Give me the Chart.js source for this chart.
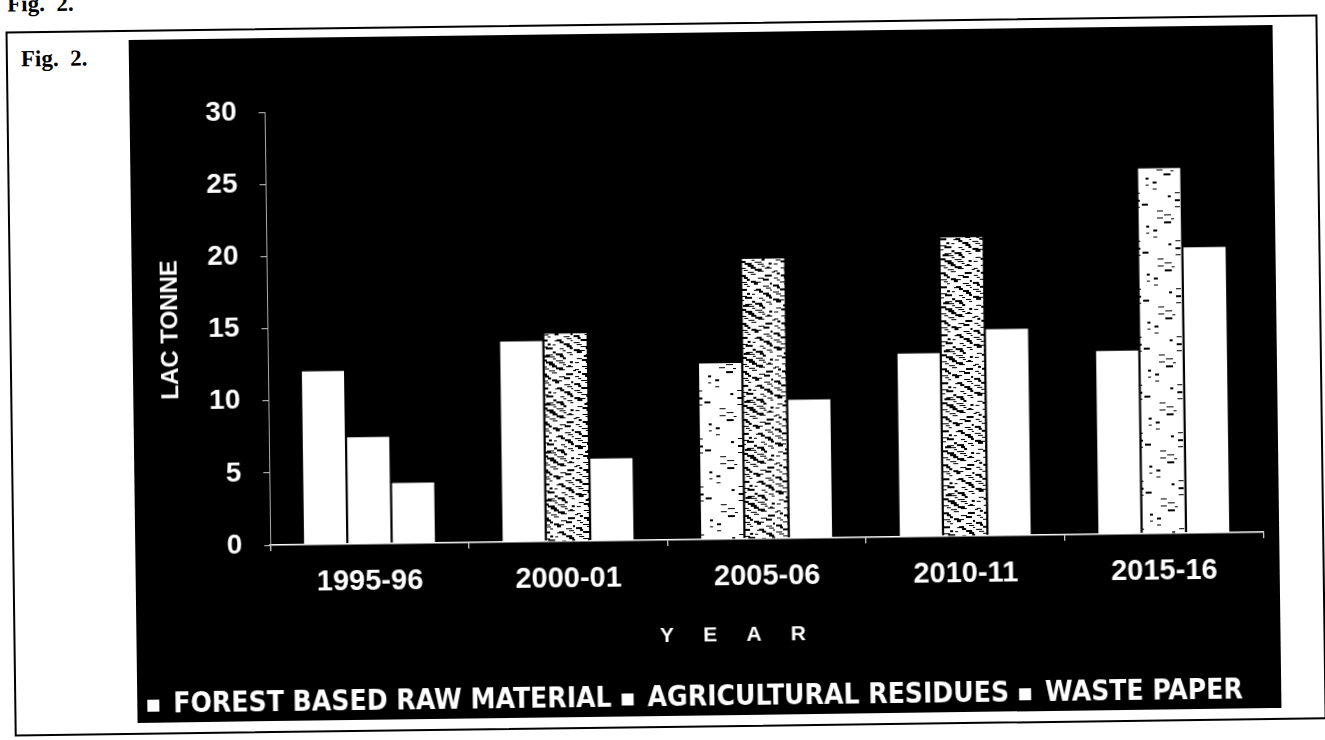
<!DOCTYPE html>
<html>
<head>
<meta charset="utf-8">
<script src="https://cdn.jsdelivr.net/npm/chart.js"></script>
<style>
  html, body { margin: 0; padding: 0; background: #fff; width: 1325px; height: 740px; overflow: hidden; }
  #page { position: absolute; left: 0; top: 0; width: 1325px; height: 740px; transform: rotate(-0.75deg); transform-origin: 662px 370px; }
  .fig { position: absolute; font-family: 'Liberation Serif', 'DejaVu Serif', serif; font-weight: bold; font-size: 23px; line-height: 24px; color: #000; white-space: pre; }
  #frame { position: absolute; left: 10px; top: 23px; width: 1312px; height: 705px; border: 2px solid #000; box-sizing: border-box; }
  #panel { position: absolute; left: 133px; top: 33px; width: 1144px; height: 683px; background: #000; }
  #myChart { position: absolute; left: 0; top: 0; }
</style>
</head>
<body>
<div id="page">
  <div class="fig" style="left:12px; top:-16px;">Fig.  2.</div>
  <div id="frame"></div>
  <div class="fig" style="left:25px; top:39px;">Fig.  2.</div>
  <div id="panel"><canvas id="myChart" width="1144" height="690"></canvas></div>
</div>
<script>
const years = ['1995-96', '2000-01', '2005-06', '2010-11', '2015-16'];
const seriesNames = ['FOREST BASED RAW MATERIAL', 'AGRICULTURAL RESIDUES', 'WASTE PAPER'];
const forestBased = [12.0, 13.9, 12.2, 12.7, 12.7];
const agriResidues = [7.4, 14.4, 19.4, 20.7, 25.3];
const wastePaper = [4.2, 5.7, 9.6, 14.3, 19.8];
const yMax = 30;
const yStep = 5;

// scanned-print look: white bars with black streaks
function speckle(count) {
    const c = document.createElement('canvas');
    c.width = 40; c.height = 48;
    const p = c.getContext('2d');
    p.fillStyle = '#fff';
    p.fillRect(0, 0, c.width, c.height);
    p.fillStyle = '#000';
    for (let i = 0; i < count; i++) {
        const x = (i * 17 + (i % 3) * 5) % 40;
        const y = (i * 11) % 48;
        p.fillRect(x, y, 3 + (i % 5), 1 + (i % 2));
    }
    return p.createPattern(c, 'repeat');
}
const heavy = speckle(70);
const light = speckle(14);

const bold = (size, family) => ({ family: family || "'Liberation Sans', Arial, sans-serif", size: size, weight: 'bold' });

const ctx = document.getElementById('myChart').getContext('2d');
const myChart = new Chart(ctx, {
    type: 'bar',
    data: {
        labels: years,
        datasets: [
            { label: seriesNames[0], data: forestBased, backgroundColor: ['#fff', '#fff', light, '#fff', '#fff'] },
            { label: seriesNames[1], data: agriResidues, backgroundColor: ['#fff', heavy, heavy, heavy, light] },
            { label: seriesNames[2], data: wastePaper, backgroundColor: '#fff' }
        ]
    },
    options: {
        responsive: false,
        animation: false,
        categoryPercentage: 0.67,
        barPercentage: 0.95,
        layout: { padding: { left: 0, right: 16, top: 74, bottom: 0 } },
        plugins: {
            tooltip: { enabled: false },
            legend: {
                position: 'bottom',
                align: 'start',
                labels: {
                    color: '#fff',
                    boxWidth: 12,
                    boxHeight: 12,
                    padding: 10,
                    font: bold(28, "'Liberation Sans Narrow', 'Arial Narrow', 'DejaVu Sans Condensed', sans-serif"),
                    generateLabels: (chart) => {
                        return Chart.defaults.plugins.legend.labels.generateLabels(chart).map(item => {
                            item.fillStyle = '#fff';
                            item.strokeStyle = '#fff';
                            item.lineWidth = 0;
                            return item;
                        });
                    }
                }
            }
        },
        scales: {
            x: {
                grid: { display: true, drawOnChartArea: false, tickLength: 6, color: '#fff' },
                border: { color: '#fff', width: 1.5 },
                ticks: { color: '#fff', font: bold(29), padding: 15, maxRotation: 0 },
                title: {
                    display: true,
                    text: 'Y     E     A     R            ',
                    color: '#fff',
                    font: bold(21),
                    padding: { top: 0, bottom: 26 }
                },
                afterFit: (s) => { s.height = 135; }
            },
            y: {
                min: 0,
                max: yMax,
                ticks: { stepSize: yStep, color: '#fff', font: bold(28), padding: 22 },
                grid: { drawOnChartArea: false, tickLength: 6, color: '#ccc' },
                border: { color: '#aaa', dash: [4, 3] },
                title: {
                    display: true,
                    text: 'LAC TONNE',
                    color: '#fff',
                    font: bold(24),
                    padding: { top: 24, bottom: 0 }
                },
                afterFit: (s) => { s.width = 135; }
            }
        }
    }
});
</script>
</body>
</html>
